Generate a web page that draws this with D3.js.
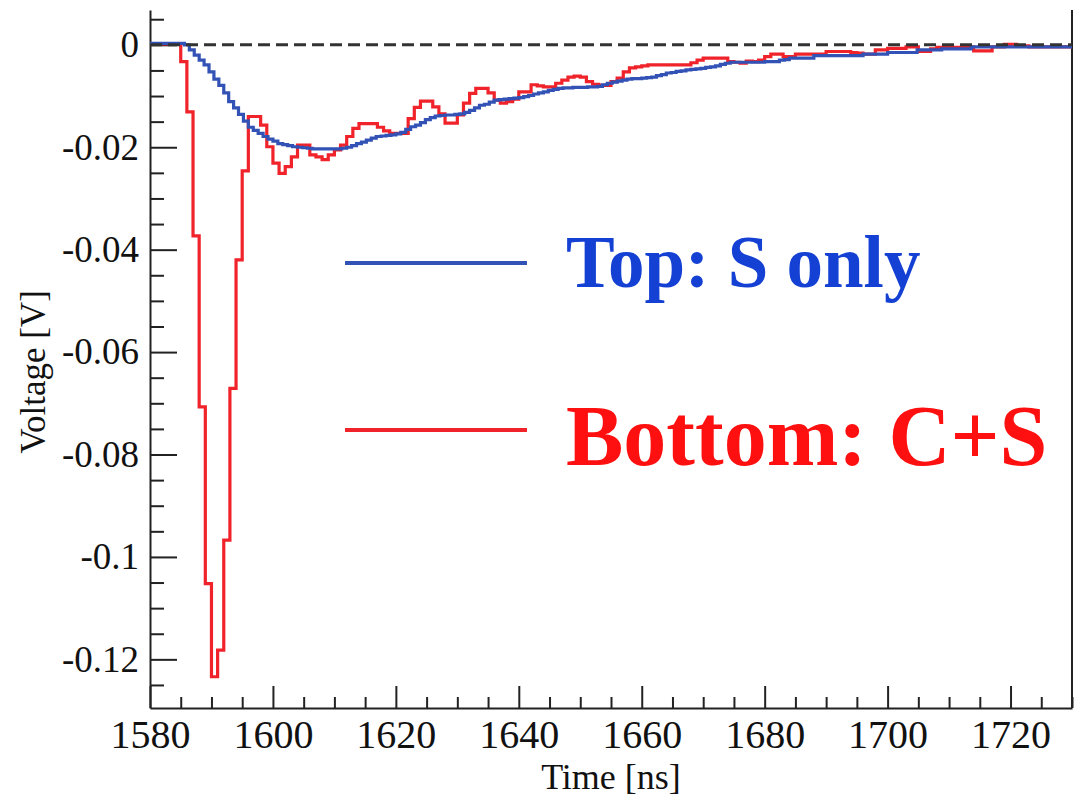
<!DOCTYPE html>
<html>
<head>
<meta charset="utf-8">
<script src="https://cdn.jsdelivr.net/npm/d3@7"></script>
<style>
  html, body { margin: 0; padding: 0; background: #fff; }
  svg { display: block; }
  text { font-family: "Liberation Serif", "Times New Roman", serif; }
</style>
</head>
<body>
<svg id="chart" width="1080" height="796"></svg>
<script>
// ---- data -------------------------------------------------------------
// Time axis (ns)
const timeDomain = [1580, 1730];
const timeTicks = [1580, 1600, 1620, 1640, 1660, 1680, 1700, 1720];
const timeTickLabels = ["1580", "1600", "1620", "1640", "1660", "1680", "1700", "1720"];

// Voltage axis (V)
const voltDomain = [-0.1295, 0.0068];
const voltTicks = [0, -0.02, -0.04, -0.06, -0.08, -0.1, -0.12];
const voltTickLabels = ["0", "-0.02", "-0.04", "-0.06", "-0.08", "-0.1", "-0.12"];

// Top channel (S only): 0.8 ns bins starting at 1580 ns
const topStart = 1580;
const topBinWidth = 0.8;
const topVolts = [
  0.0003, 0.0003, 0.0003, 0.0003, 0.0003, 0.0003, 0.0003, 0.0000,
  -0.0010, -0.0020, -0.0030, -0.0039, -0.0053, -0.0067, -0.0079, -0.0094,
  -0.0111, -0.0123, -0.0136, -0.0149, -0.0161, -0.0167, -0.0173, -0.0179,
  -0.0184, -0.0188, -0.0193, -0.0195, -0.0197, -0.0199, -0.0200, -0.0201,
  -0.0202, -0.0203, -0.0203, -0.0203, -0.0203, -0.0203, -0.0203, -0.0202,
  -0.0200, -0.0197, -0.0193, -0.0190, -0.0186, -0.0182, -0.0179, -0.0178,
  -0.0177, -0.0176, -0.0174, -0.0171, -0.0165, -0.0160, -0.0157, -0.0152,
  -0.0146, -0.0142, -0.0139, -0.0138, -0.0137, -0.0137, -0.0136, -0.0135,
  -0.0132, -0.0128, -0.0123, -0.0118, -0.0116, -0.0112, -0.0108, -0.0107,
  -0.0106, -0.0105, -0.0104, -0.0103, -0.0101, -0.0099, -0.0096, -0.0094,
  -0.0092, -0.0089, -0.0087, -0.0085, -0.0084, -0.0084, -0.0083, -0.0083,
  -0.0083, -0.0082, -0.0082, -0.0081, -0.0078, -0.0075, -0.0073, -0.0071,
  -0.0069, -0.0067, -0.0066, -0.0066, -0.0065, -0.0064, -0.0063, -0.0060,
  -0.0058, -0.0055, -0.0054, -0.0052, -0.0051, -0.0049, -0.0048, -0.0047,
  -0.0046, -0.0044, -0.0043, -0.0041, -0.0038, -0.0036, -0.0034, -0.0034,
  -0.0034, -0.0034, -0.0034, -0.0034, -0.0034, -0.0033, -0.0033, -0.0033,
  -0.0030, -0.0029, -0.0026, -0.0026, -0.0026, -0.0026, -0.0026, -0.0021,
  -0.0021, -0.0021, -0.0021, -0.0021, -0.0021, -0.0021, -0.0021, -0.0021,
  -0.0021, -0.0018, -0.0018, -0.0018, -0.0018, -0.0018, -0.0015, -0.0015,
  -0.0015, -0.0015, -0.0015, -0.0015, -0.0010, -0.0010, -0.0010, -0.0010,
  -0.0010, -0.0008, -0.0008, -0.0008, -0.0008, -0.0008, -0.0008, -0.0004,
  -0.0004, -0.0004, -0.0004, -0.0004, -0.0004, -0.0004, -0.0004, -0.0004,
  -0.0004, -0.0004, -0.0004, -0.0004, -0.0004, -0.0004, -0.0004, -0.0004,
  -0.0004, -0.0004, -0.0004, -0.0004
];

// Bottom channel (C+S): 1 ns bins starting at 1580 ns
const bottomStart = 1580;
const bottomBinWidth = 1;
const bottomVolts = [
  0.0002, 0.0002, 0.0002, 0.0002, 0.0002,                       // 1580-1584
  -0.0033, -0.0131, -0.0373, -0.0707, -0.1052,                  // 1585-1589
  -0.1234, -0.1182, -0.0967, -0.0671, -0.0420,                  // 1590-1594
  -0.0246, -0.0140, -0.0140, -0.0157, -0.0199,                  // 1595-1599
  -0.0231, -0.0251, -0.0238, -0.0219, -0.0196,                  // 1600-1604
  -0.0196, -0.0215, -0.0219, -0.0224, -0.0215,                  // 1605-1609
  -0.0205, -0.0196, -0.0179, -0.0163, -0.0154,                  // 1610-1614
  -0.0154, -0.0154, -0.0161, -0.0168, -0.0173,                  // 1615-1619
  -0.0173, -0.0173, -0.0144, -0.0122, -0.0110,                  // 1620-1624
  -0.0110, -0.0121, -0.0135, -0.0153, -0.0153,                  // 1625-1629
  -0.0137, -0.0114, -0.0095, -0.0085, -0.0085,                  // 1630-1634
  -0.0094, -0.0108, -0.0114, -0.0111, -0.0106,                  // 1635-1639
  -0.0092, -0.0092, -0.0078, -0.0080, -0.0082,                  // 1640-1644
  -0.0082, -0.0075, -0.0069, -0.0063, -0.0061,                  // 1645-1649
  -0.0063, -0.0072, -0.0077, -0.0079, -0.0079,                  // 1650-1654
  -0.0072, -0.0065, -0.0053, -0.0045, -0.0043,                  // 1655-1659
  -0.0041, -0.0039, -0.0039, -0.0039, -0.0039,                  // 1660-1664
  -0.0039, -0.0039, -0.0039, -0.0035, -0.0030,                  // 1665-1669
  -0.0026, -0.0026, -0.0026, -0.0026, -0.0033,                  // 1670-1674
  -0.0034, -0.0036, -0.0032, -0.0033, -0.0030,                  // 1675-1679
  -0.0023, -0.0018, -0.0018, -0.0023, -0.0023,                  // 1680-1684
  -0.0018, -0.0018, -0.0018, -0.0018, -0.0018,                  // 1685-1689
  -0.0013, -0.0013, -0.0013, -0.0013, -0.0015,                  // 1690-1694
  -0.0016, -0.0018, -0.0018, -0.0010, -0.0010,                  // 1695-1699
  -0.0007, -0.0007, -0.0007, -0.0004, -0.0004,                  // 1700-1704
  -0.0013, -0.0013, -0.0008, -0.0005, -0.0005,                  // 1705-1709
  -0.0005, -0.0005, -0.0005, -0.0004, -0.0012,                  // 1710-1714
  -0.0012, -0.0012, -0.0004, -0.0004, 0.0001,                   // 1715-1719
  0.0001, -0.0002, -0.0002, -0.0004, -0.0004,                   // 1720-1724
  -0.0004, -0.0004, -0.0004, -0.0004, -0.0004                   // 1725-1729
];

const legendLabels = ["Top: S only", "Bottom: C+S"];

// ---- layout -----------------------------------------------------------
const W = 1080, H = 796;
const plot = { left: 150, right: 1072, top: 10, bottom: 708 };
const colTop = "#3352b5";
const colBottom = "#f0222a";
const axisCol = "#222";
const serif = '"Liberation Serif", "Times New Roman", serif';

const svg = d3.select("#chart");

const x = d3.scaleLinear().domain(timeDomain).range([plot.left, plot.right]);
const y = d3.scaleLinear().domain(voltDomain).range([plot.bottom, plot.top]);

// minor tick positions
const timeMinor = d3.range(timeDomain[0], timeDomain[1] + 0.001, 5)
  .filter(t => t % 20 !== 0);
const voltMinor = d3.range(-125, 6, 5).map(v => v / 1000)
  .filter(v => Math.abs(Math.round(v * 1000)) % 20 !== 0);

// ---- axes ---------------------------------------------------------------
const xAxis = svg.append("g")
  .attr("transform", `translate(0,${plot.bottom})`)
  .call(d3.axisBottom(x)
    .tickValues(timeTicks)
    .tickFormat((d, i) => timeTickLabels[i])
    .tickSizeInner(-22).tickSizeOuter(0).tickPadding(12));
xAxis.select(".domain").attr("stroke", axisCol).attr("stroke-width", 2);
xAxis.selectAll(".tick line").attr("stroke", axisCol).attr("stroke-width", 2);
xAxis.selectAll(".tick text")
  .attr("font-size", 40).attr("fill", "#111")
  .style("font-family", serif);

const xMinor = svg.append("g")
  .attr("transform", `translate(0,${plot.bottom})`)
  .call(d3.axisBottom(x).tickValues(timeMinor).tickFormat("")
    .tickSizeInner(-11).tickSizeOuter(0));
xMinor.select(".domain").remove();
xMinor.selectAll(".tick line").attr("stroke", axisCol).attr("stroke-width", 2);

const yAxis = svg.append("g")
  .attr("transform", `translate(${plot.left},0)`)
  .call(d3.axisLeft(y)
    .tickValues(voltTicks)
    .tickFormat((d, i) => voltTickLabels[i])
    .tickSizeInner(-27).tickSizeOuter(0).tickPadding(11));
yAxis.select(".domain").attr("stroke", axisCol).attr("stroke-width", 2);
yAxis.selectAll(".tick line").attr("stroke", axisCol).attr("stroke-width", 2);
yAxis.selectAll(".tick text")
  .attr("font-size", 37).attr("fill", "#111")
  .style("font-family", serif);

const yMinor = svg.append("g")
  .attr("transform", `translate(${plot.left},0)`)
  .call(d3.axisLeft(y).tickValues(voltMinor).tickFormat("")
    .tickSizeInner(-14).tickSizeOuter(0));
yMinor.select(".domain").remove();
yMinor.selectAll(".tick line").attr("stroke", axisCol).attr("stroke-width", 2);

// right frame edge
svg.append("line")
  .attr("x1", plot.right).attr("x2", plot.right)
  .attr("y1", plot.top).attr("y2", plot.bottom)
  .attr("stroke", axisCol).attr("stroke-width", 2);

// axis titles
svg.append("text")
  .attr("x", (plot.left + plot.right) / 2).attr("y", 789)
  .attr("text-anchor", "middle").attr("font-size", 36).attr("fill", "#111")
  .text("Time [ns]");

svg.append("text")
  .attr("transform", `translate(45,${372}) rotate(-90)`)
  .attr("text-anchor", "middle").attr("font-size", 35).attr("fill", "#111")
  .text("Voltage [V]");

// ---- histograms ---------------------------------------------------------
// bin edges -> step vertices, closed at the last bin's right edge
function stepPoints(start, width, vals) {
  const pts = vals.map((v, i) => [start + i * width, v]);
  const end = Math.min(start + vals.length * width, timeDomain[1]);
  pts.push([end, vals[vals.length - 1]]);
  return pts.filter(p => p[0] <= timeDomain[1] + 1e-9);
}

svg.append("clipPath").attr("id", "plotClip")
  .append("rect")
  .attr("x", plot.left).attr("y", plot.top)
  .attr("width", plot.right - plot.left).attr("height", plot.bottom - plot.top);

const stepLine = d3.line()
  .x(d => x(d[0])).y(d => y(d[1]))
  .curve(d3.curveStepAfter);

const g = svg.append("g").attr("clip-path", "url(#plotClip)");

g.append("path")
  .datum(stepPoints(bottomStart, bottomBinWidth, bottomVolts))
  .attr("d", stepLine)
  .attr("fill", "none").attr("stroke", colBottom)
  .attr("stroke-width", 3.2).attr("stroke-linejoin", "miter");

g.append("path")
  .datum(stepPoints(topStart, topBinWidth, topVolts))
  .attr("d", stepLine)
  .attr("fill", "none").attr("stroke", colTop)
  .attr("stroke-width", 3.2).attr("stroke-linejoin", "miter");

// zero reference line
g.append("line")
  .attr("x1", x(timeDomain[0])).attr("x2", x(timeDomain[1]))
  .attr("y1", y(0)).attr("y2", y(0))
  .attr("stroke", "#333").attr("stroke-width", 3)
  .attr("stroke-dasharray", "12,6");

// ---- legend -------------------------------------------------------------
const legend = [
  { label: legendLabels[0], color: colTop, text: "#1440d4", ly: 263, ty: 287, size: 73 },
  { label: legendLabels[1], color: colBottom, text: "#ff1010", ly: 430, ty: 465, size: 86 }
];
legend.forEach(d => {
  svg.append("line")
    .attr("x1", 345).attr("x2", 527)
    .attr("y1", d.ly).attr("y2", d.ly)
    .attr("stroke", d.color).attr("stroke-width", 4);
  svg.append("text")
    .attr("x", 566).attr("y", d.ty)
    .attr("font-size", d.size).attr("font-weight", "bold")
    .attr("fill", d.text)
    .text(d.label);
});
</script>
</body>
</html>
